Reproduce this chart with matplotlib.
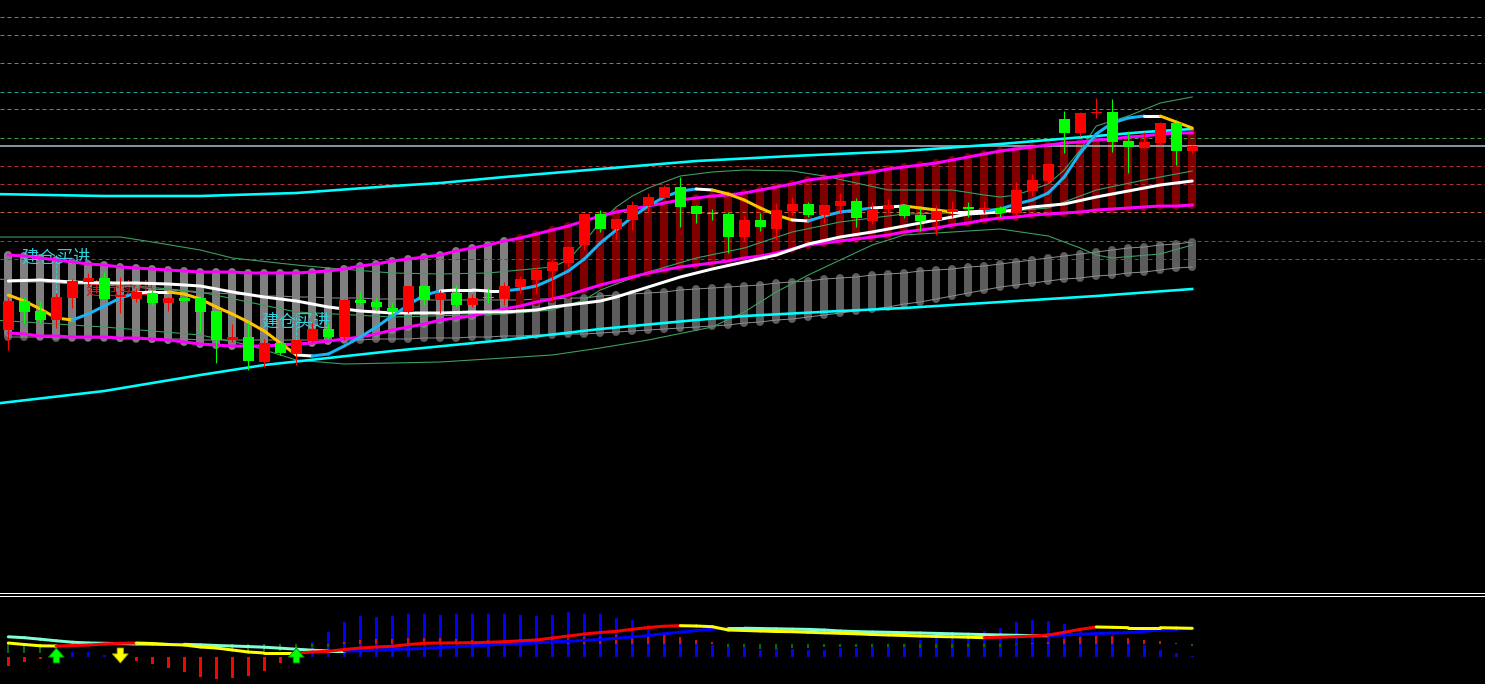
"""
Trading-terminal style chart: candles, bands, clouds and a MACD-like sub window.
"""

import matplotlib
matplotlib.use("Agg")
import matplotlib.pyplot as plt
import numpy as np
from matplotlib.collections import LineCollection
from matplotlib.lines import Line2D

# ---------------------------------------------------------------------------
# Data (bar index 0..74, prices)
# ---------------------------------------------------------------------------

opens = [3670, 3699, 3689, 3680, 3702, 3718, 3722, 3703, 3701, 3707,
         3697, 3702, 3702, 3689, 3660, 3663, 3638, 3657, 3646, 3659,
         3671, 3663, 3700, 3698, 3692, 3688, 3714, 3700, 3707, 3695,
         3703, 3701, 3713, 3720, 3729, 3737, 3755, 3786, 3771, 3780,
         3794, 3802, 3813, 3794, 3787, 3786, 3763, 3780, 3771, 3789,
         3796, 3785, 3794, 3799, 3779, 3791, 3795, 3785, 3780, 3788,
         3793, 3790, 3792, 3787, 3809, 3819, 3881, 3867, 3887, 3888,
         3859, 3852, 3857, 3877, 3849]
highs = [3702, 3703, 3699, 3707, 3721, 3727, 3728, 3723, 3712, 3710,
         3703, 3702, 3702, 3689, 3676, 3678, 3661, 3658, 3660, 3677,
         3677, 3701, 3708, 3702, 3698, 3714, 3715, 3710, 3715, 3706,
         3711, 3718, 3724, 3733, 3741, 3754, 3787, 3790, 3781, 3799,
         3807, 3815, 3823, 3795, 3791, 3788, 3784, 3787, 3797, 3803,
         3798, 3795, 3807, 3802, 3798, 3801, 3796, 3792, 3795, 3799,
         3798, 3799, 3794, 3818, 3826, 3837, 3889, 3888, 3902, 3901,
         3869, 3868, 3878, 3878, 3855]
lows = [3650, 3677, 3677, 3672, 3692, 3715, 3701, 3687, 3698, 3695,
        3689, 3699, 3668, 3637, 3658, 3630, 3633, 3645, 3635, 3658,
        3661, 3660, 3695, 3690, 3684, 3687, 3695, 3687, 3693, 3693,
        3697, 3695, 3707, 3707, 3699, 3733, 3750, 3768, 3761, 3770,
        3787, 3802, 3773, 3777, 3780, 3747, 3759, 3769, 3760, 3785,
        3783, 3777, 3787, 3773, 3776, 3787, 3782, 3769, 3765, 3783,
        3783, 3787, 3783, 3784, 3804, 3817, 3847, 3864, 3882, 3848,
        3827, 3852, 3855, 3835, 3847]
closes = [3699, 3688, 3680, 3703, 3719, 3722, 3701, 3705, 3708, 3697,
          3702, 3699, 3688, 3660, 3663, 3639, 3657, 3647, 3660, 3671,
          3663, 3700, 3697, 3693, 3688, 3714, 3700, 3707, 3695, 3702,
          3702, 3714, 3721, 3730, 3738, 3753, 3786, 3771, 3781, 3795,
          3803, 3813, 3793, 3786, 3786, 3763, 3780, 3773, 3790, 3796,
          3785, 3795, 3799, 3782, 3791, 3795, 3784, 3779, 3789, 3791,
          3791, 3792, 3787, 3810, 3820, 3836, 3867, 3887, 3888, 3858,
          3853, 3858, 3877, 3849, 3854]

# channel (magenta) edges, one value per bar
band_upper = [3745, 3744, 3742, 3740, 3738, 3736, 3735, 3733, 3732, 3731,
              3730, 3729, 3728, 3728, 3728, 3727, 3727, 3727, 3727, 3728,
              3729, 3731, 3734, 3736, 3739, 3741, 3743, 3745, 3749, 3752,
              3755, 3759, 3762, 3766, 3770, 3774, 3779, 3784, 3788, 3791,
              3794, 3797, 3800, 3802, 3804, 3805, 3807, 3810, 3813, 3816,
              3820, 3822, 3824, 3826, 3828, 3831, 3833, 3835, 3837, 3840,
              3843, 3846, 3849, 3851, 3853, 3855, 3857, 3858, 3860, 3861,
              3863, 3864, 3866, 3867, 3867]
band_lower = [3667, 3666, 3664, 3664, 3663, 3663, 3663, 3662, 3662, 3661,
              3660, 3658, 3656, 3655, 3654, 3654, 3654, 3655, 3656, 3657,
              3659, 3661, 3663, 3666, 3670, 3673, 3676, 3680, 3682, 3684,
              3688, 3691, 3694, 3698, 3701, 3705, 3710, 3715, 3719, 3723,
              3727, 3730, 3733, 3735, 3737, 3739, 3742, 3744, 3747, 3751,
              3755, 3757, 3759, 3761, 3763, 3765, 3768, 3770, 3772, 3775,
              3777, 3780, 3782, 3783, 3785, 3786, 3787, 3788, 3790, 3791,
              3792, 3793, 3794, 3794, 3795]
band_bull_from = 32          # first bar whose channel column is dark red

# displaced grey cloud, one value per bar
cloud_top = [3719, 3718, 3718, 3717, 3716, 3716, 3715, 3714, 3713, 3711,
             3710, 3709, 3707, 3707, 3706, 3705, 3704, 3704, 3703, 3703,
             3702, 3702, 3702, 3701, 3701, 3701, 3700, 3700, 3700, 3700,
             3700, 3700, 3700, 3701, 3701, 3702, 3702, 3704, 3705, 3706,
             3707, 3708, 3710, 3711, 3712, 3713, 3714, 3715, 3717, 3718,
             3719, 3721, 3722, 3723, 3725, 3726, 3727, 3729, 3730, 3731,
             3733, 3734, 3736, 3738, 3740, 3742, 3744, 3746, 3748, 3750,
             3752, 3753, 3755, 3756, 3758]
cloud_bottom = [3663, 3663, 3663, 3662, 3662, 3662, 3662, 3662, 3661, 3661,
                3661, 3661, 3660, 3660, 3660, 3660, 3660, 3660, 3660, 3660,
                3660, 3660, 3660, 3661, 3661, 3661, 3662, 3662, 3662, 3663,
                3663, 3664, 3664, 3665, 3665, 3666, 3666, 3667, 3668, 3669,
                3670, 3671, 3672, 3673, 3674, 3675, 3677, 3678, 3680, 3681,
                3683, 3685, 3687, 3689, 3691, 3693, 3696, 3698, 3701, 3704,
                3707, 3710, 3713, 3715, 3717, 3719, 3721, 3722, 3724, 3725,
                3727, 3728, 3730, 3732, 3733]

# fast moving average (colour follows its slope), one value per bar
fast_ma = [3705, 3699, 3691, 3682, 3680, 3686, 3694, 3702, 3707, 3708,
           3708, 3706, 3701, 3693, 3686, 3678, 3669, 3657, 3645, 3644,
           3646, 3654, 3663, 3673, 3684, 3695, 3705, 3709, 3710, 3710,
           3709, 3709, 3711, 3714, 3721, 3729, 3741, 3757, 3770, 3783,
           3794, 3803, 3809, 3811, 3810, 3806, 3800, 3792, 3785, 3780,
           3779, 3784, 3788, 3790, 3792, 3793, 3794, 3792, 3790, 3788,
           3788, 3789, 3791, 3796, 3800, 3807, 3823, 3847, 3866, 3877,
           3882, 3884, 3884, 3878, 3872]

# slower lines, read at selected bars
slow_ma_x = [0, 2, 4, 6, 8, 10, 12, 14, 16, 18, 20, 22, 24, 27, 29, 31, 33, 34,
             36, 37, 38, 40, 42, 44, 46, 48, 50, 52, 54, 56, 58, 60, 62, 64,
             66, 68, 70, 72, 74]
slow_ma = [3719, 3720, 3718, 3717, 3717, 3716, 3714, 3708, 3703, 3699, 3693,
           3689, 3687, 3687, 3688, 3688, 3690, 3693, 3697, 3699, 3703, 3713,
           3723, 3731, 3738, 3745, 3756, 3763, 3768, 3774, 3780, 3786, 3788,
           3793, 3796, 3803, 3809, 3815, 3819]

env_upper_x = [-1, 6, 12, 18, 24, 27, 31, 34, 37, 43, 49, 56, 62, 65, 68, 71, 74]
env_upper = [3806, 3804, 3804, 3807, 3814, 3817, 3823, 3827, 3831, 3839, 3844,
             3849, 3856, 3860, 3864, 3868, 3871]
env_lower_x = [-1, 6, 12, 16, 20, 24, 31, 37, 43, 46, 52, 56, 62, 68, 74]
env_lower = [3596, 3609, 3625, 3635, 3642, 3649, 3660, 3671, 3680, 3684, 3689,
             3692, 3698, 3704, 3711]

bb_upper_x = [-1, 7, 9, 12, 14, 18, 20, 24, 27, 30, 34, 35, 36, 37, 38, 39, 40,
              42, 44, 46, 49, 51, 53, 55, 59, 61, 62, 63, 65, 66, 67, 68, 70,
              72, 74]
bb_upper = [3763, 3763, 3758, 3750, 3742, 3735, 3732, 3727, 3726, 3727, 3733,
            3740, 3758, 3778, 3793, 3804, 3812, 3824, 3828, 3830, 3829, 3824,
            3817, 3810, 3810, 3805, 3803, 3805, 3816, 3830, 3850, 3874, 3884,
            3897, 3903]
bb_mid_x = [-1, 6, 12, 18, 24, 31, 34, 36, 37, 40, 43, 46, 49, 52, 56, 62, 65,
            68, 71, 74]
bb_mid = [3721, 3717, 3708, 3688, 3683, 3686, 3690, 3700, 3710, 3728, 3742,
          3752, 3768, 3778, 3786, 3788, 3792, 3810, 3820, 3829]
bb_lower_x = [-1, 6, 12, 15, 18, 21, 27, 34, 37, 40, 44, 46, 48, 50, 52, 54, 56,
              59, 62, 65, 67, 68, 69, 72, 74]
bb_lower = [3680, 3673, 3665, 3655, 3640, 3636, 3638, 3645, 3652, 3660, 3673,
            3688, 3708, 3725, 3740, 3755, 3765, 3768, 3771, 3764, 3752, 3745,
            3742, 3746, 3755]

# horizontal price levels: (price, colour, dashed?)
levels = [(3983, "#1f9f9f", True), (3965, "#1f9f9f", True),
          (3937, "#3f9f6f", True), (3908, "#1f9f9f", True),
          (3891, "#1f9f9f", True), (3862, "#3f9f3f", True),
          (3854, "#a8b4c4", False), (3834, "#b03030", True),
          (3816, "#b03030", True), (3788, "#c0603a", True),
          (3759, "#b03030", True), (3741, "#b03030", True)]

# signals
buy_bars = [3, 18]
sell_bars = [7]
buy_label = "建仓买进"
sell_label = "建仓卖出"

# sub window
macd_hist = [-9.3, -5.3, -2.3, -0.5, 5, 5, 1.7, -1, -4.3, -7.3,
             -11, -15, -20, -22.3, -21, -19, -14.3, -6, -1, 15,
             25, 35, 40.7, 40, 40.7, 42.7, 42.7, 41.7, 43.3, 42.7,
             43.3, 42.7, 41.7, 40.7, 41.7, 44.7, 42.7, 42.7, 38.7, 36.7,
             31.7, 24, 17.3, 13.3, 11.7, 10.7, 10, 7.3, 9.3, 8.3,
             7.3, 7.3, 9, 9, 10, 10.7, 13.3, 16.7, 20, 23.3,
             22.3, 25.7, 29, 35, 37.3, 35.7, 32.7, 26.7, 21.7, 20,
             17.3, 11.7, 7.3, 4, 0.7]
osc_hist = [-8.7, -8.7, -8.7, -6, -2, -1, -1, -1, 1, -1,
            -1, -1, -1, -4.3, -5.3, -7.7, -7, -7, -6, -3,
            -3, 2.3, 4, 5, 5, 5.7, 6.3, 6.3, 5, 4,
            4, 4, 4.5, 5, 5.5, 6, 7, 7.5, 9, 7.3,
            9, 9, 7.3, 4, 2.3, -2.7, -3.3, -5.3, -5, -4,
            -4, -3, -3, -3, -3, -3, -3, -4, -4, -4,
            -3, -3, -3, -1, 1, 2.3, 4.7, 7.3, 8, 8,
            5.7, 4, 3, 1.3, -2]
osc_base = 13
fast_line = [14, 12.5, 11.2, 11, 11.5, 12, 13, 13.7, 14, 13.5,
             12.5, 12, 10, 9, 7, 5, 4, 4, 4, 5,
             5.7, 7.5, 9, 10, 10.7, 12.5, 13.7, 14, 14.1, 14.3,
             14.7, 15.3, 16.2, 17, 19, 21, 23, 24.5, 25.7, 27.7,
             29.5, 30.8, 31.3, 31, 30.3, 27, 26.5, 26, 25.5, 25.3,
             24.7, 24.2, 23.7, 23.2, 22.5, 22, 21.5, 21, 20.5, 20.2,
             19.8, 19.3, 19.8, 20.3, 21, 22, 24.7, 27.7, 30, 29.7,
             29.3, 29.3, 29.3, 29, 28.7]
slow_line = [20.2, 19.3, 17.8, 16.2, 14.8, 14, 13.7, 13.4, 13, 12.8,
             12.6, 12.7, 12.2, 11.5, 11, 10.4, 9.8, 8.8, 7.8, 6.8,
             6, 6, 6.2, 7, 7.5, 8, 8.5, 9.5, 10.3, 11.2,
             12, 12.8, 13.5, 14.2, 15, 15.8, 16.6, 17.5, 18.7, 20,
             21.5, 23.2, 24.8, 26.5, 27.8, 28.8, 28.8, 28.5, 28.2, 27.9,
             27.6, 27, 26, 25.4, 25, 24.7, 24.3, 24, 23.6, 23.2,
             22.8, 22.4, 22, 21.7, 21.4, 21.3, 22, 22.8, 23.5, 24,
             24.4, 25.8, 27, 27.8, 28.6]

# ---------------------------------------------------------------------------
# Figure layout (pixel based: 1485 x 684)
# ---------------------------------------------------------------------------

W, H = 1485, 684
PX = 72 / 100  # one pixel in points
fig = plt.figure(figsize=(W / 100, H / 100), dpi=100, facecolor="black")

ax = fig.add_axes([0, 1 - 591 / H, 1, 591 / H])
sub = fig.add_axes([0, 0, 1, 87 / H])
for a in (ax, sub):
    a.set_facecolor("black")
    a.set_axis_off()
    a.set_xlim(-0.52, 92.3)
ax.set_ylim(3409, 4000)
sub.set_ylim(-27, 60)

for ypix in (592.5, 595.5):
    fig.add_artist(Line2D([0, 1], [1 - ypix / H] * 2, transform=fig.transFigure,
                          color="white", lw=1.0 * PX))

N = len(closes)
idx = np.arange(N)


def colored_line(axis, x, y, up_color, down_color, flat_color=None, lw=3, z=5, thr=0.0):
    segs, cols = [], []
    for i in range(len(x) - 1):
        d = y[i + 1] - y[i]
        if flat_color is not None and abs(d) <= thr:
            c = flat_color
        else:
            c = up_color if d > 0 else down_color
        segs.append([(x[i], y[i]), (x[i + 1], y[i + 1])])
        cols.append(c)
    lc = LineCollection(segs, colors=cols, linewidths=lw * PX, zorder=z,
                        capstyle="round")
    axis.add_collection(lc)


# ---------------------------------------------------------------------------
# Main window
# ---------------------------------------------------------------------------

# displaced grey cloud
ax.vlines(idx, cloud_bottom, cloud_top, colors="#5c5c5c", lw=8 * PX,
          capstyle="round", zorder=1)
ax.plot(idx, cloud_top, color="#8c8c8c", lw=1 * PX, zorder=1.5)
ax.plot(idx, cloud_bottom, color="#8c8c8c", lw=1 * PX, zorder=1.5)

# channel columns
col_colors = ["#808080" if i < band_bull_from else "#800000" for i in idx]
ax.vlines(idx, band_lower, band_upper, colors=col_colors, lw=8 * PX,
          capstyle="round", zorder=2)

# levels
for price, color, dashed in levels:
    ax.axhline(price, color=color, lw=(1 if dashed else 1.6) * PX,
               ls=(0, (4, 3)) if dashed else "-", zorder=2.5)

# bollinger-like thin lines
for xs, ys in ((bb_upper_x, bb_upper), (bb_mid_x, bb_mid), (bb_lower_x, bb_lower)):
    ax.plot(xs, ys, color="#3c9f62", lw=1.1 * PX, zorder=3)

# signal labels and markers
cjk = ["Noto Sans CJK SC", "DejaVu Sans"]
for b, dy, mark in zip(buy_bars, (35, 18), (40, 26)):
    ax.text(b, highs[b] + dy, buy_label, color="#2fd0de", fontsize=12.5,
            family=cjk, ha="center", va="center", zorder=3.5)
    ax.vlines(b, highs[b], highs[b] + mark, colors="#2fd0de", lw=1 * PX,
              linestyles=(0, (3, 2)), zorder=3.5)
for b in sell_bars:
    ax.text(b, highs[b] - 12, sell_label, color="#d81818", fontsize=12.5,
            family=cjk, ha="center", va="center", zorder=3.5)

# envelope lines and channel edges
ax.plot(env_upper_x, env_upper, color="#00ffff", lw=2.6 * PX, zorder=4)
ax.plot(env_lower_x, env_lower, color="#00ffff", lw=2.6 * PX, zorder=4)
ax.plot(idx, band_upper, color="#ff00ff", lw=3 * PX, zorder=4)
ax.plot(idx, band_lower, color="#ff00ff", lw=3 * PX, zorder=4)

# moving averages
ax.plot(slow_ma_x, slow_ma, color="white", lw=3 * PX, zorder=5,
        solid_capstyle="round")
colored_line(ax, idx, fast_ma, "#1ab4f5", "#ffc400", flat_color="white",
             lw=3, z=5, thr=1.0)

# candles
for i in idx:
    o, h, l, c = opens[i], highs[i], lows[i], closes[i]
    color = "#ff0000" if c >= o else "#00ff00"
    ax.vlines(i, l, h, colors=color, lw=1.1 * PX, zorder=6)
    ax.bar(i, max(abs(c - o), 1.5), bottom=min(o, c), width=0.69,
           color=color, lw=0, zorder=6.5)

# ---------------------------------------------------------------------------
# Sub window
# ---------------------------------------------------------------------------

hist_colors = ["#0000ff" if v > 0 else "#ff0000" for v in macd_hist]
sub.bar(idx, macd_hist, width=0.19, color=hist_colors, lw=0, zorder=2)
osc_colors = ["#e01010" if v > 0 else "#0a6a0a" for v in osc_hist]
sub.bar(idx, osc_hist, bottom=osc_base, width=0.14, color=osc_colors, lw=0,
        zorder=3)

colored_line(sub, idx, slow_line, "#0000ff", "#7fffd4", lw=3, z=4)
colored_line(sub, idx, fast_line, "#ff0000", "#ffff00", lw=3, z=5)

arrow_style = "simple,head_length=0.55,head_width=0.95,tail_width=0.38"
for b in buy_bars:
    sub.annotate("", xy=(b, 9), xytext=(b, -6),
                 arrowprops=dict(arrowstyle=arrow_style, mutation_scale=12,
                                 fc="#00ff00", ec="#008000", lw=0.6,
                                 shrinkA=0, shrinkB=0), zorder=6)
for b in sell_bars:
    sub.annotate("", xy=(b, -6), xytext=(b, 9),
                 arrowprops=dict(arrowstyle=arrow_style, mutation_scale=12,
                                 fc="#ffff00", ec="#a0a000", lw=0.6,
                                 shrinkA=0, shrinkB=0), zorder=6)

fig.savefig("out.png", dpi=100, facecolor="black")
